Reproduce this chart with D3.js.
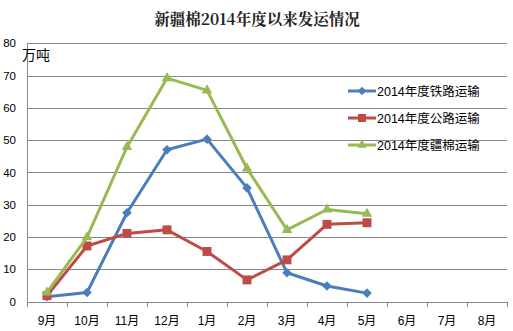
<!DOCTYPE html>
<html>
<head>
<meta charset="utf-8">
<script src="https://cdn.jsdelivr.net/npm/d3@7/dist/d3.min.js"></script>
<style>
  html, body { margin: 0; padding: 0; background: #fff; }
  svg { display: block; }
</style>
</head>
<body>
<svg id="chart" width="513" height="331"></svg>
<script>
// Monthly shipments (万吨), season Sep 2014 – Aug 2015
const months = ["9月","10月","11月","12月","1月","2月","3月","4月","5月","6月","7月","8月"];
const railValues = [1.5, 2.8, 27.5, 47, 50.3, 35.2, 8.9, 4.8, 2.6];
const roadValues = [1.8, 17.2, 21.1, 22.2, 15.5, 6.7, 12.9, 23.9, 24.4];
const totalValues = [2.8, 19.9, 47.9, 69.2, 65.4, 41.2, 22.2, 28.5, 27.2];
const yTicks = [0, 10, 20, 30, 40, 50, 60, 70, 80];
const seriesNames = ["2014年度铁路运输", "2014年度公路运输", "2014年度疆棉运输"];

const series = [
  { name: seriesNames[0], values: railValues, color: "#4A7EBB", marker: d3.symbolSquare, size: 46, rotate: 45 },
  { name: seriesNames[1], values: roadValues, color: "#BE4B48", marker: d3.symbolSquare, size: 80, rotate: 0 },
  { name: seriesNames[2], values: totalValues, color: "#98B954", marker: d3.symbolTriangle, size: 48, rotate: 0 }
];

const svg = d3.select("#chart");
const font = "'Liberation Sans', 'Noto Sans CJK SC', sans-serif";

const plotLeft = 27, plotRight = 507, plotTop = 43.3, plotBottom = 301.5;

const x = d3.scaleBand().domain(months).range([plotLeft, plotRight]);
const y = d3.scaleLinear().domain([0, 80]).range([plotBottom, plotTop]);

// Title
svg.append("text")
  .attr("x", 257).attr("y", 25)
  .attr("text-anchor", "middle")
  .attr("font-family", "'Noto Serif CJK SC', 'Noto Sans CJK SC', serif")
  .attr("font-size", 15.5).attr("font-weight", "bold")
  .attr("fill", "#222")
  .text("新疆棉2014年度以来发运情况");

// Horizontal gridlines
svg.append("g").selectAll("line").data(yTicks.slice(1)).join("line")
  .attr("x1", plotLeft).attr("x2", plotRight)
  .attr("y1", d => Math.round(y(d)) + 0.5).attr("y2", d => Math.round(y(d)) + 0.5)
  .attr("stroke", "#868686").attr("stroke-width", 1);

// Y axis labels
const yAxis = svg.append("g")
  .attr("transform", `translate(${plotLeft},0)`)
  .call(d3.axisLeft(y).tickValues(yTicks).tickSize(0).tickPadding(11));
yAxis.select(".domain").remove();
yAxis.selectAll("text")
  .attr("font-family", font).attr("font-size", 11.5).attr("fill", "#000");

svg.append("line")
  .attr("x1", plotLeft + 0.5).attr("x2", plotLeft + 0.5)
  .attr("y1", plotTop).attr("y2", plotBottom)
  .attr("stroke", "#868686");

// X axis with ticks between categories
svg.append("line")
  .attr("x1", plotLeft).attr("x2", plotRight)
  .attr("y1", Math.round(plotBottom) + 0.5).attr("y2", Math.round(plotBottom) + 0.5)
  .attr("stroke", "#868686");
const bounds = months.map(m => x(m)).concat([plotRight]);
svg.append("g").selectAll("line").data(bounds).join("line")
  .attr("x1", d => Math.round(d) + 0.5).attr("x2", d => Math.round(d) + 0.5)
  .attr("y1", Math.round(plotBottom)).attr("y2", Math.round(plotBottom) + 5)
  .attr("stroke", "#868686");
svg.append("g").selectAll("text").data(months).join("text")
  .attr("x", d => x(d) + x.bandwidth() / 2)
  .attr("y", 325)
  .attr("text-anchor", "middle")
  .attr("font-family", font).attr("font-size", 12).attr("fill", "#000")
  .text(d => d);

// Unit label
svg.append("text")
  .attr("x", 22).attr("y", 60)
  .attr("font-family", "'Noto Sans CJK SC', sans-serif")
  .attr("font-size", 14).attr("fill", "#000")
  .text("万吨");

// Series lines and markers
const line = d3.line()
  .x((d, i) => x(months[i]) + x.bandwidth() / 2)
  .y(d => y(d));

series.forEach(s => {
  const g = svg.append("g");
  g.append("path")
    .datum(s.values)
    .attr("d", line)
    .attr("fill", "none")
    .attr("stroke", s.color)
    .attr("stroke-width", 3)
    .attr("stroke-linejoin", "round");
  g.selectAll("path.m").data(s.values).join("path")
    .attr("class", "m")
    .attr("transform", (d, i) => `translate(${x(months[i]) + x.bandwidth() / 2},${y(d)}) rotate(${s.rotate})`)
    .attr("d", d3.symbol().type(s.marker).size(s.size))
    .attr("fill", s.color);
});

// Legend
const legend = svg.append("g");
series.forEach((s, i) => {
  const ly = 91 + i * 27;
  legend.append("line")
    .attr("x1", 348).attr("x2", 376)
    .attr("y1", ly).attr("y2", ly)
    .attr("stroke", s.color).attr("stroke-width", 3);
  legend.append("path")
    .attr("transform", `translate(362,${ly}) rotate(${s.rotate})`)
    .attr("d", d3.symbol().type(s.marker).size(s.size * 0.8))
    .attr("fill", s.color);
  legend.append("text")
    .attr("x", 377).attr("y", ly + 4.5)
    .attr("font-family", font).attr("font-size", 12.5).attr("fill", "#000")
    .text(s.name);
});
</script>
</body>
</html>
